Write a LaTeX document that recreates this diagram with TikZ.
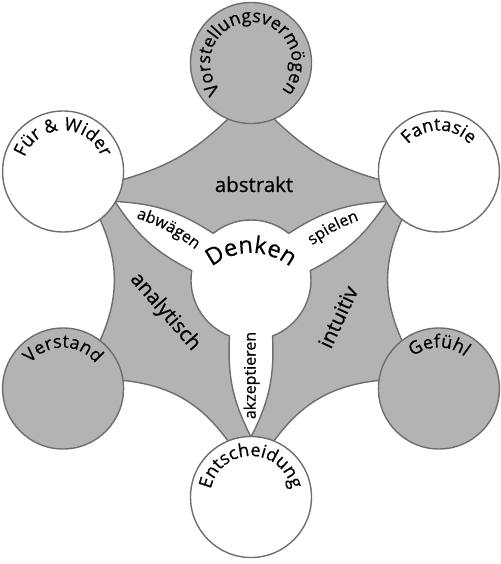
\documentclass[tikz,border=0pt]{standalone}
\usepackage{fontspec}
\setmainfont[FakeBold=0.6]{Open Sans}
\usetikzlibrary{decorations.text}
\definecolor{fillg}{HTML}{B3B3B3}
\definecolor{lineg}{HTML}{6E6E6E}
\newcommand\circfont{\fontsize{18}{18}\selectfont}
\newcommand\regfont{\fontsize{20.5}{20.5}\selectfont}
\newcommand\armfont{\fontsize{16}{16}\selectfont}
\newcommand\denkfont{\fontsize{23.5}{23.5}\selectfont}
\begin{document}
\begin{tikzpicture}[x=1pt,y=1pt, line join=round,
  outl/.style={draw=lineg, line width=1.4pt},
  graycirc/.style={outl, fill=fillg, circle, minimum size=121pt, inner sep=0pt},
  whitecirc/.style={outl, fill=white, circle, minimum size=121pt, inner sep=0pt},
  curvlbl/.style={decorate, decoration={text along path, text align=center, text={#1}}}
  ]
\useasboundingbox (-251,-284) rectangle (249,280);
\coordinate (O) at (0,0);
\coordinate (cT) at (90:217);
\coordinate (cFW) at (150:217);
\coordinate (cV) at (210:217);
\coordinate (cE) at (270:217);
\coordinate (cG) at (330:217);
\coordinate (cF) at (30:217);

% gray blob
\path[outl, fill=fillg] (cT) -- (98:163) to[bend left=14] (142:163) -- (cFW)
  -- (158:163) to[bend left=24] (202:163) -- (cV)
  -- (218:163) to[bend left=24] (262:163) -- (cE)
  -- (278:163) to[bend left=24] (322:163) -- (cG)
  -- (338:163) to[bend left=24] (22:163) -- (cF)
  -- (38:163) to[bend left=14] (82:163) -- cycle;

% white centre with three arms
\path[outl, fill=white] (51:60) arc[start angle=51, end angle=129, radius=60]
  to[bend right=15] (150:157) to[bend right=15] (171:60)
  arc[start angle=171, end angle=249, radius=60]
  to[bend right=15] (270:157) to[bend right=15] (291:60)
  arc[start angle=291, end angle=369, radius=60]
  to[bend right=15] (30:157) to[bend right=15] (51:60) -- cycle;

% circles
\node[graycirc] (vv) at (cT) {};
\node[whitecirc] (fw) at (cFW) {};
\node[graycirc] (ve) at (cV) {};
\node[whitecirc] (en) at (cE) {};
\node[graycirc] (ge) at (cG) {};
\node[whitecirc] (fa) at (cF) {};

% circle labels
\path[curvlbl={|\circfont|Vorstellungsvermögen}] (cT) ++(255:41) arc[start angle=255, end angle=-75, radius=41];
\path[curvlbl={|\circfont|Für {\&} Wider}] (cFW) ++(255:41) arc[start angle=255, end angle=-75, radius=41];
\path[curvlbl={|\circfont|Verstand}] (cV) ++(255:41) arc[start angle=255, end angle=-75, radius=41];
\path[curvlbl={|\circfont|Entscheidung}] (cE) ++(255:41) arc[start angle=255, end angle=-75, radius=41];
\path[curvlbl={|\circfont|Gefühl}] (cG) ++(255:41) arc[start angle=255, end angle=-75, radius=41];
\path[curvlbl={|\circfont|Fantasie}] (cF) ++(255:41) arc[start angle=255, end angle=-75, radius=41];

% region labels
\node[font=\regfont, anchor=base, inner sep=0pt] (abs) at (3,88) {abstrakt};
\node[font=\regfont, rotate=-49, inner sep=0pt] (ana) at (-86,-32) {analytisch};
\node[font=\regfont, rotate=65, inner sep=0pt] (int) at (87,-37) {intuitiv};
\node[font=\armfont, rotate=90, inner sep=0pt] (akz) at (0.5,-95.5) {akzeptieren};

% arm labels
\path[curvlbl={|\armfont|abwägen}] (-118,63) to[bend left=10] (-53,28.4);
\path[curvlbl={|\armfont|spielen}] (53,28.4) to[bend left=10] (118,63);
\path[curvlbl={|\denkfont|Denken}] (0,-35) ++(150:62) arc[start angle=150, end angle=30, radius=62];
\end{tikzpicture}
\end{document}
